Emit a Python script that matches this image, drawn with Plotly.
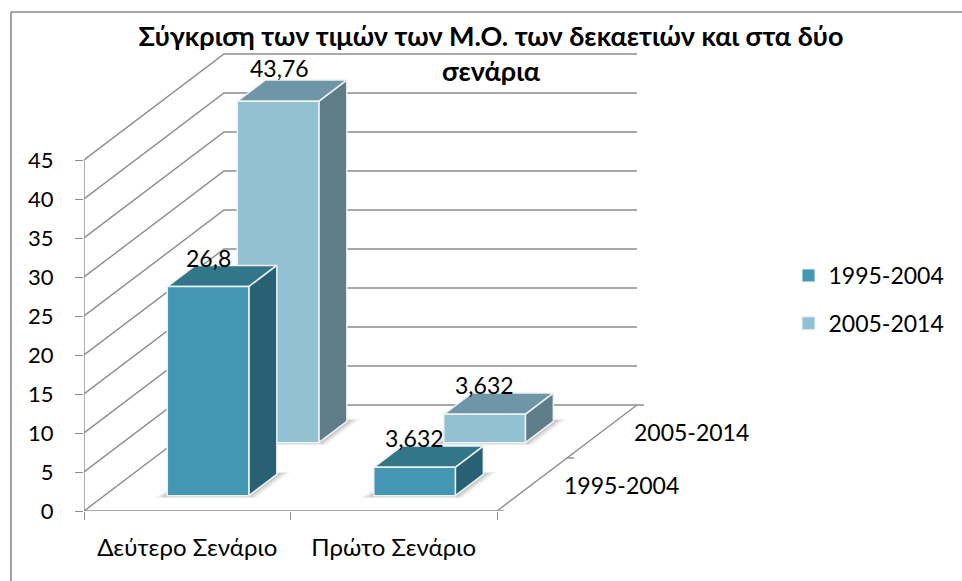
import plotly.graph_objects as go

# Data
categories = ["Δεύτερο Σενάριο", "Πρώτο Σενάριο"]
series_names = ["1995-2004", "2005-2014"]
series_1995_2004 = [26.8, 3.632]
series_2005_2014 = [43.76, 3.632]
label_1995_2004 = ["26,8", "3,632"]
label_2005_2014 = ["43,76", "3,632"]
value_ticks = [0, 5, 10, 15, 20, 25, 30, 35, 40, 45]
title_text = "Σύγκριση των τιμών των Μ.Ο. των δεκαετιών και στα δύο<br>σενάρια"

# Style
FONT = "Lato, Carlito, 'Noto Sans', sans-serif"
AXIS = "#8c8c8c"
EDGE = "#eef2f4"
COLORS = [
    dict(front="#4397B2", top="#33768A", side="#276173"),
    dict(front="#92C1D4", top="#6E96A6", side="#5F7D89"),
]

# Oblique projection of (category position, value, series depth) on the 2D axes
PX_X, PX_Y = 206.5, 7.8          # pixels per axis unit
L, R, T, B = 84, 660, 20, 511    # plot box in pixels
DX, DY = 70 / PX_X, 53 / PX_Y    # shift per series of depth


def proj(c, v, d):
    return c + d * DX, v + d * DY


def path(points):
    xs, ys = zip(*[proj(*p) for p in points])
    return list(xs), list(ys)


fig = go.Figure()


def line(points, width=1.4, color=AXIS):
    x, y = path(points)
    fig.add_trace(go.Scatter(x=x, y=y, mode="lines", showlegend=False, hoverinfo="skip",
                             line=dict(color=color, width=width)))


def poly(points, fill, edge=None):
    x, y = path(points + points[:1])
    fig.add_trace(go.Scatter(x=x, y=y, mode="lines", fill="toself", fillcolor=fill,
                             showlegend=False, hoverinfo="skip",
                             line=dict(color=edge or "rgba(0,0,0,0)", width=1.5)))


# Walls and floor
n_cat, n_ser = len(categories), len(series_names)
TICK_C = 7 / PX_X
for v in value_ticks:
    if v == 0:
        continue
    line([(0, v, 0), (0, v, n_ser), (n_cat, v, n_ser)])
line([(0, 0, n_ser), (n_cat + TICK_C, 0, n_ser)])
line([(0, 0, 0), (0, 0, n_ser)])
line([(0, 0, 0), (n_cat, 0, 0), (n_cat, 0, n_ser)])
line([(0, 0, 0), (0, max(value_ticks), 0)])
for d in range(n_ser):
    line([(n_cat, 0, d), (n_cat + TICK_C, 0, d)])

# Bars, back series first
C0, C1 = 0.305, 0.70
D0, D1 = 0.29, 0.69
all_series = [series_1995_2004, series_2005_2014]
for j in reversed(range(n_ser)):
    for i in range(n_cat):
        v = all_series[j][i]
        a, b = i + C0, i + C1
        n, f = j + D0, j + D1
        col = COLORS[j]
        # soft floor shadow
        for k, alpha in ((0.05, 0.06), (0.035, 0.10), (0.02, 0.14)):
            poly([(a - k, 0, n - k), (b + k, 0, n - k), (b + k, 0, f + k), (a, 0, f + k)],
                 f"rgba(60,60,60,{alpha})")
        poly([(a, v, f), (b, v, f), (b, v, n), (a, v, n)], col["top"], EDGE)
        poly([(b, 0, n), (b, 0, f), (b, v, f), (b, v, n)], col["side"], EDGE)
        poly([(a, 0, n), (b, 0, n), (b, v, n), (a, v, n)], col["front"], EDGE)

# Legend entries
for name, col in zip(series_names, COLORS):
    fig.add_trace(go.Scatter(x=[None], y=[None], mode="markers", name=name, legendgroup=name,
                             marker=dict(symbol="square", size=13, color=col["front"],
                                         line=dict(color="#eef2f4", width=1))))


def px_x(p):
    return (p - L) / (R - L)


def px_y(p):
    return (B - p) / (B - T)


# Data labels
annotations = []
all_labels = [label_1995_2004, label_2005_2014]
shifts = [[15, 15], [19, 15]]
for j in range(n_ser):
    for i in range(n_cat):
        x, y = proj(i + (C0 + C1) / 2, all_series[j][i], j + D0)
        annotations.append(dict(x=x, y=y, text=all_labels[j][i], showarrow=False,
                                yanchor="bottom", xanchor="center", yshift=shifts[j][i] - 2,
                                xshift=1 if (j, i) == (1, 0) else 0,
                                font=dict(family=FONT, size=23, color="#000")))
# Depth axis labels
for d, name in enumerate(series_names):
    x, y = proj(n_cat, 0, d + 0.5)
    annotations.append(dict(x=x, y=y, text=name, showarrow=False, xanchor="left", yanchor="middle",
                            xshift=30, yshift=0, font=dict(family=FONT, size=23, color="#000")))

fig.update_layout(
    width=962, height=581, autosize=False,
    margin=dict(l=L, r=962 - R, t=T, b=581 - B, pad=0, autoexpand=False),
    paper_bgcolor="white", plot_bgcolor="rgba(0,0,0,0)",
    font=dict(family=FONT, size=23, color="#000"),
    title=dict(text=f"<b>{title_text}</b>",
               x=491 / 962, xanchor="center", y=1 - 46 / 581, yanchor="top",
               font=dict(family=FONT, size=27, color="#000")),
    xaxis=dict(range=[0, (R - L) / PX_X], showgrid=False, zeroline=False, showline=False,
               tickmode="array", tickvals=[i + 0.5 for i in range(n_cat)], ticktext=categories,
               ticks="", ticklabelstandoff=20, tickfont=dict(family=FONT, size=24, color="#000"),
               minor=dict(tickmode="array", tickvals=list(range(n_cat + 1)), ticks="outside",
                          ticklen=8, tickwidth=1.4, tickcolor=AXIS, showgrid=False)),
    yaxis=dict(range=[0, (B - T) / PX_Y], showgrid=False, zeroline=False, showline=False,
               tickmode="array", tickvals=value_ticks, ticks="outside", ticklen=8,
               tickwidth=1.4, tickcolor=AXIS, ticklabelstandoff=17,
               tickfont=dict(family=FONT, size=22, color="#000")),
    legend=dict(x=px_x(772.5), y=px_y(254), xanchor="left", yanchor="top", bgcolor="rgba(0,0,0,0)",
                tracegroupgap=15, indentation=16, entrywidth=118, entrywidthmode="pixels",
                font=dict(family=FONT, size=23, color="#000"), traceorder="grouped"),
    annotations=annotations,
    shapes=[dict(type="line", xref="paper", yref="paper", x0=px_x(11), x1=px_x(11), y0=px_y(12), y1=px_y(581),
                 line=dict(color="#8a8a8a", width=1.6)),
            dict(type="line", xref="paper", yref="paper", x0=px_x(11), x1=px_x(962), y0=px_y(12), y1=px_y(12),
                 line=dict(color="#8a8a8a", width=1.6))],
)

fig.write_html("out.html", post_script="document.body.style.margin='0';", config=dict(displayModeBar=False))
